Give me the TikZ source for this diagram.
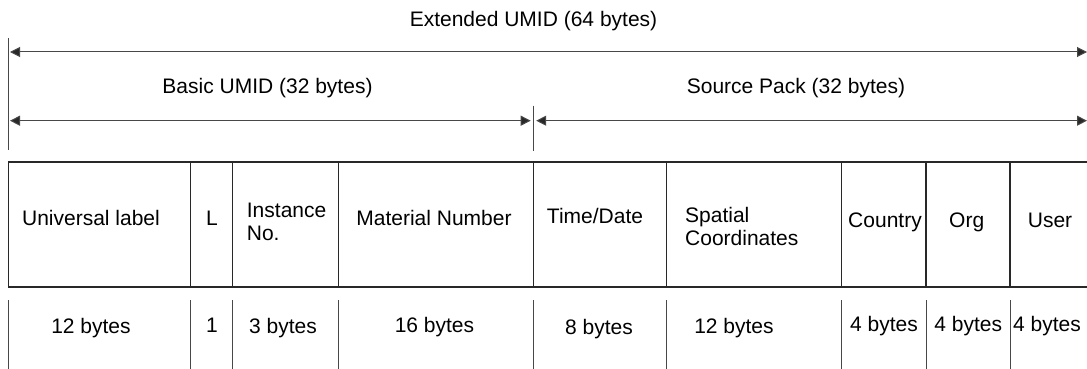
\documentclass[tikz,border=0pt]{standalone}
\usepackage{fontspec}
\setmainfont{Liberation Sans}
\usetikzlibrary{arrows.meta}
\definecolor{ink}{RGB}{40,40,40}

\begin{document}
\begin{tikzpicture}[x=1pt,y=-1pt,lbl/.style={font=\fontsize{21}{23}\selectfont,inner sep=0pt,anchor=base},twoline/.style={lbl,anchor=north west,align=left},rule/.style={draw=ink,line width=1.3pt},tick/.style={draw=ink!85,line width=.8pt},dim/.style={{Triangle[length=10pt,width=10pt,fill=ink]}-{Triangle[length=10pt,width=10pt,fill=ink]},draw=ink!85,line width=1pt}]
\useasboundingbox (0,0) rectangle (1087,369);
% field borders, one name per field
\foreach \n/\x in {ul/8.5,len/190.7,inst/232.3,mat/338.3,time/533.7,spat/666.7,ctry/841.7,org/926,usr/1010}{
  \coordinate (\n-t) at (\x,162); \coordinate (\n-b) at (\x,287);
  \coordinate (\n-u) at (\x,300); \coordinate (\n-d) at (\x,369);}
\coordinate (end-t) at (1087,162); \coordinate (end-b) at (1087,287);
\draw[rule] (end-t) -- (ul-t) -- (ul-b) -- (end-b);
\foreach \n in {len,inst,mat,time,spat,ctry,org,usr} \draw[rule] (\n-t) -- (\n-b);
\foreach \n in {ul,len,inst,mat,time,spat,ctry,org,usr} \draw[tick] (\n-u) -- (\n-d);
% extent markers
\coordinate (left-a) at (8.5,38); \coordinate (left-b) at (8.5,150);
\coordinate (mid-a) at (533.7,105.7); \coordinate (mid-b) at (533.7,150.7);
\coordinate (ext-l) at (8.5,52); \coordinate (ext-r) at (1087,52);
\coordinate (basic-l) at (8.5,120.7); \coordinate (basic-r) at (533.7,120.7); \coordinate (src-r) at (1087,120.7);
\draw[tick] (left-a) -- (left-b); \draw[tick] (mid-a) -- (mid-b);
\draw[dim,shorten <=1.5pt] (ext-l) -- (ext-r);
\draw[dim,shorten <=1.5pt,shorten >=3pt] (basic-l) -- (basic-r);
\draw[dim,shorten <=2.5pt] (basic-r) -- (src-r);
\node[lbl] (ext) at (533.5,27) {Extended UMID (64 bytes)};
\node[lbl] (basic) at (267.5,93) {Basic UMID (32 bytes)};
\node[lbl] (src) at (796,93) {Source Pack (32 bytes)};
% field names
\node[lbl] (ul-name) at (91,225) {Universal label};
\node[lbl] (len-name) at (212,225) {L};
\node[twoline] (inst-name) at (246.7,202.7) {Instance\\No.};
\node[lbl] (mat-name) at (434,225) {Material Number};
\node[lbl] (time-name) at (595,223) {Time/Date};
\node[twoline] (spat-name) at (685,207) {Spatial\\Coordinates};
\node[lbl] (ctry-name) at (885,227) {Country};
\node[lbl] (org-name) at (966.7,227) {Org};
\node[lbl] (usr-name) at (1050,227) {User};
% field sizes
\node[lbl] (ul-size) at (91,333) {12 bytes};
\node[lbl] (len-size) at (212,332) {1};
\node[lbl] (inst-size) at (283,333) {3 bytes};
\node[lbl] (mat-size) at (434.5,332) {16 bytes};
\node[lbl] (time-size) at (599,334) {8 bytes};
\node[lbl] (spat-size) at (734,333) {12 bytes};
\node[lbl] (ctry-size) at (884,331) {4 bytes};
\node[lbl] (org-size) at (968.3,331) {4 bytes};
\node[lbl] (usr-size) at (1047,331) {4 bytes};
\end{tikzpicture}
\end{document}
